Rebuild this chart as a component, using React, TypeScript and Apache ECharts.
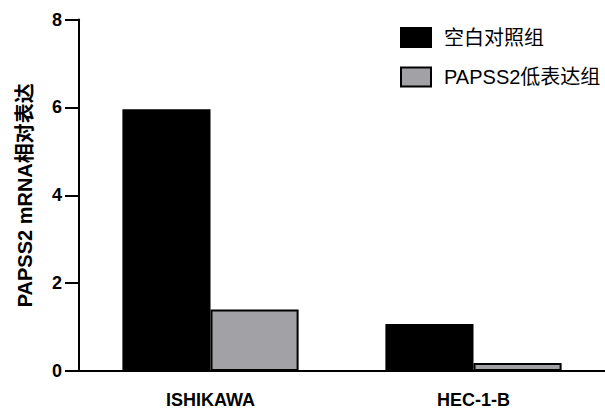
import React, { useEffect, useRef } from "react";
import * as echarts from "echarts";

const categories = ["ISHIKAWA", "HEC-1-B"];
const seriesNames = ["空白对照组", "PAPSS2低表达组"];
const controlValues = [5.96, 1.07];
const lowValues = [1.4, 0.18];
const yTicks = { min: 0, max: 8, interval: 2 };
const yAxisName = "PAPSS2 mRNA相对表达";

const FONT = "'Liberation Sans', 'Noto Sans CJK SC', sans-serif";

export default function App() {
  const ref = useRef<HTMLDivElement>(null);
  useEffect(() => {
    if (!ref.current) return;
    const chart = echarts.init(ref.current, undefined, { renderer: "svg" });
    chart.setOption({
      animation: false,
      backgroundColor: "#ffffff",
      grid: { left: 79, top: 19.5, width: 530, bottom: 38, containLabel: false },
      legend: {
        orient: "vertical",
        left: 400,
        top: 27,
        padding: 0,
        itemWidth: 30,
        itemHeight: 19,
        itemGap: 18.5,
        icon: "rect",
        textStyle: { fontFamily: FONT, fontSize: 20, color: "#000", padding: [0, 0, 0, 8] },
        data: seriesNames,
      },
      xAxis: {
        type: "category",
        data: categories,
        axisLine: { lineStyle: { color: "#000", width: 2 } },
        axisTick: { alignWithLabel: true, length: 13, lineStyle: { color: "#000", width: 2 } },
        axisLabel: { color: "#000", fontWeight: "bold", fontSize: 18, fontFamily: FONT, margin: 20 },
      },
      yAxis: {
        type: "value",
        min: yTicks.min,
        max: yTicks.max,
        interval: yTicks.interval,
        name: yAxisName,
        nameLocation: "middle",
        nameGap: 44,
        nameRotate: 90,
        nameTextStyle: { color: "#000", fontWeight: "bold", fontSize: 20, fontFamily: FONT },
        axisLine: { show: true, lineStyle: { color: "#000", width: 2 } },
        axisTick: { show: true, length: 14, lineStyle: { color: "#000", width: 2 } },
        axisLabel: { color: "#000", fontWeight: "bold", fontSize: 18, fontFamily: FONT, margin: 17 },
        splitLine: { show: false },
      },
      series: [
        {
          name: seriesNames[0],
          type: "bar",
          data: controlValues,
          barGap: "0%",
          barCategoryGap: "33%",
          itemStyle: { color: "#000", borderColor: "#000", borderWidth: 2 },
        },
        {
          name: seriesNames[1],
          type: "bar",
          data: lowValues,
          itemStyle: { color: "#a2a2a6", borderColor: "#000", borderWidth: 2 },
        },
      ],
    });
    return () => chart.dispose();
  }, []);
  return (
    <div
      ref={ref}
      style={{ position: "absolute", left: 0, top: 0, width: 605, height: 409 }}
    />
  );
}
